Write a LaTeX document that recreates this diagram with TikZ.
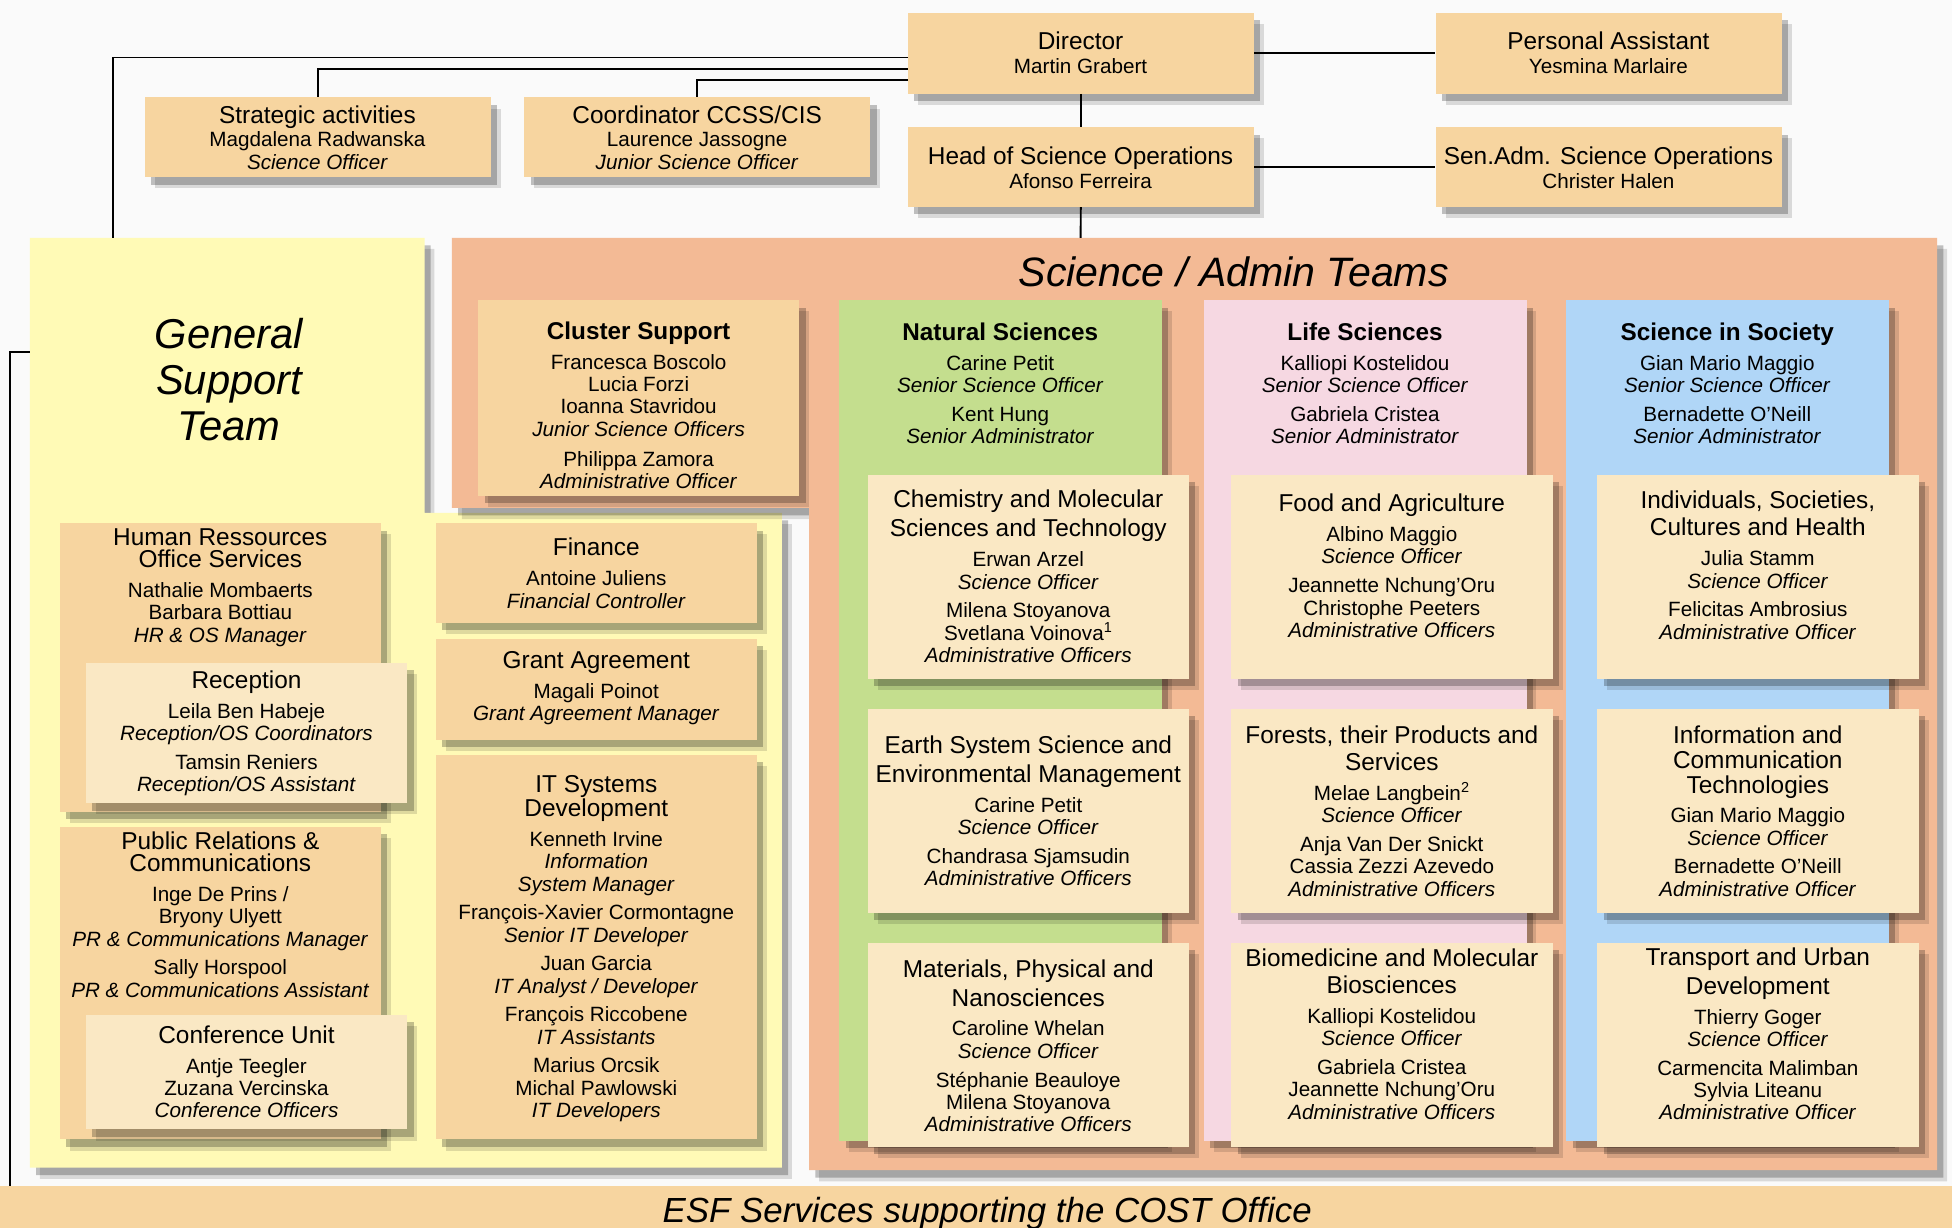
\documentclass[tikz,border=0pt]{standalone}
\usepackage{fontspec}
\setmainfont{Liberation Sans}
\usetikzlibrary{shadows}
\definecolor{bg}{RGB}{250,250,250}
\definecolor{peach}{RGB}{247,213,160}
\definecolor{cream}{RGB}{250,232,196}
\definecolor{ylw}{RGB}{255,250,182}
\definecolor{salmon}{RGB}{243,186,149}
\definecolor{grn}{RGB}{196,222,142}
\definecolor{pnk}{RGB}{246,216,226}
\definecolor{blu}{RGB}{176,214,247}
\newcommand\ttl[1]{{\fontsize{19.6}{18}\selectfont #1}}
\newcommand\rl[1]{\textit{#1}}
\newcommand\bhd[1]{{\fontsize{19.5}{18}\selectfont\bfseries #1}}
\tikzset{
  shad/.style={drop shadow={shadow xshift=5pt,shadow yshift=-6pt,opacity=.24,fill=black},
               drop shadow={shadow xshift=8pt,shadow yshift=-9pt,opacity=.13,fill=black}},
  card/.style={shad, inner sep=0pt, anchor=north west},
  pbox/.style={card, fill=peach},
  cbox/.style={card, fill=cream},
  txt/.style={align=center, inner sep=0pt, yshift=1.5pt, font=\fontsize{16.6}{18}\selectfont},
  conn/.style={draw=black, line width=1.5pt},
}
\begin{document}
\begin{tikzpicture}[x=1pt,y=-1pt]
\clip (0,0) rectangle (1568,986);
\fill[bg] (0,0) rectangle (1568,986);

% big panels
\fill[ylw, shad] (24,191) -- (341,191) -- (341,412) -- (628,412) -- (628,938) -- (24,938) -- cycle;
\fill[salmon, shad] (363,191) -- (1556,191) -- (1556,940) -- (650,940) -- (650,408) -- (363,408) -- cycle;
\coordinate (gstTop) at (91,191);
\coordinate (gstLeft) at (24,283);
\coordinate (satTop) at (868,191);
\coordinate (esfLeft) at (8,953);

% ESF band
\fill[peach] (0,953) rectangle (1568,1000);
\node[font=\fontsize{28}{30}\selectfont\itshape, anchor=base, inner sep=0pt] (esfT) at (793,982) {ESF Services supporting the COST Office};

% headings
\node[font=\fontsize{33.5}{37}\selectfont\itshape, align=center, inner sep=0pt] (gstT) at (184,305) {General\\Support\\Team};
\node[font=\fontsize{33}{37}\selectfont\itshape, inner sep=0pt] (satT) at (991,218) {Science / Admin Teams};

% top boxes
\node[pbox, minimum width=278pt, minimum height=65pt] (dir) at (729,10) {};
\node[pbox, minimum width=278pt, minimum height=65pt] (pa) at (1153,10) {};
\node[pbox, minimum width=278pt, minimum height=64pt] (head) at (729,102) {};
\node[pbox, minimum width=278pt, minimum height=64pt] (sen) at (1153,102) {};
\node[pbox, minimum width=278pt, minimum height=64pt] (strat) at (116,78) {};
\node[pbox, minimum width=278pt, minimum height=64pt] (coord) at (421,78) {};

\node[txt] (dirT) at (868,44) {\ttl{Director}\\[1pt] Martin Grabert};
\node[txt] (paT) at (1292,44) {\ttl{Personal Assistant}\\[1pt] Yesmina Marlaire};
\node[txt] (headT) at (868,136) {\ttl{Head of Science Operations}\\[1pt] Afonso Ferreira};
\node[txt] (senT) at (1292,136) {\ttl{Sen.Adm. Science Operations}\\[1pt] Christer Halen};
\node[txt] (stratT) at (255,112) {\ttl{Strategic activities}\\[1pt] Magdalena Radwanska\\ \rl{Science Officer}};
\node[txt] (coordT) at (560,112) {\ttl{Coordinator CCSS/CIS}\\[1pt] Laurence Jassogne\\ \rl{Junior Science Officer}};

% connectors
\draw[conn] ([yshift=-3.5pt]dir.west) -| (gstTop);
\draw[conn] ([yshift=-12.5pt]dir.west) -| (strat.north);
\draw[conn] ([yshift=-21.5pt]dir.west) -| (coord.north);
\draw[conn] (dir.east) -- (pa.west);
\draw[conn] (dir.south) -- (head.north);
\draw[conn] (head.east) -- (sen.west);
\draw[conn] (head.south) -- (satTop);
\draw[conn] (gstLeft) -| (esfLeft);

% cluster support
\node[pbox, minimum width=258pt, minimum height=157pt] (clu) at (384,241) {};
\node[txt] (cluT) at (513,327) {\bhd{Cluster Support}\\[6pt] Francesca Boscolo\\ Lucia Forzi\\ Ioanna Stavridou\\ \rl{Junior Science Officers}\\[6pt] Philippa Zamora\\ \rl{Administrative Officer}};

% column panels
\node[card, fill=grn, minimum width=259pt, minimum height=675pt] (ns) at (674,241) {};
\node[card, fill=pnk, minimum width=259pt, minimum height=675pt] (ls) at (967,241) {};
\node[card, fill=blu, minimum width=259pt, minimum height=675pt] (sis) at (1258,241) {};
\node[txt] (nsT) at (803.5,309.5) {\bhd{Natural Sciences}\\[6pt] Carine Petit\\ \rl{Senior Science Officer}\\[5pt] Kent Hung\\ \rl{Senior Administrator}};
\node[txt] (lsT) at (1096.5,309.5) {\bhd{Life Sciences}\\[6pt] Kalliopi Kostelidou\\ \rl{Senior Science Officer}\\[5pt] Gabriela Cristea\\ \rl{Senior Administrator}};
\node[txt] (sisT) at (1387.5,309.5) {\bhd{Science in Society}\\[6pt] Gian Mario Maggio\\ \rl{Senior Science Officer}\\[5pt] Bernadette O'Neill\\ \rl{Senior Administrator}};

% natural sciences sub-boxes
\node[cbox, minimum width=258pt, minimum height=164pt] (chem) at (697,381) {};
\node[cbox, minimum width=258pt, minimum height=164pt] (earth) at (697,569) {};
\node[cbox, minimum width=258pt, minimum height=164pt] (mat) at (697,757) {};
\node[txt] (chemT) at (826,464.5) {\ttl{Chemistry and Molecular}\\[4pt] \ttl{Sciences and Technology}\\[6pt] Erwan Arzel\\ \rl{Science Officer}\\[5pt] Milena Stoyanova\\ Svetlana Voinova\textsuperscript{1}\\ \rl{Administrative Officers}};
\node[txt] (earthT) at (826,653) {\ttl{Earth System Science and}\\[4pt] \ttl{Environmental Management}\\[6pt] Carine Petit\\ \rl{Science Officer}\\[5pt] Chandrasa Sjamsudin\\ \rl{Administrative Officers}};
\node[txt] (matT) at (826,841.5) {\ttl{Materials, Physical and}\\[4pt] \ttl{Nanosciences}\\[6pt] Caroline Whelan\\ \rl{Science Officer}\\[5pt] Stéphanie Beauloye\\ Milena Stoyanova\\ \rl{Administrative Officers}};

% life sciences sub-boxes
\node[cbox, minimum width=258pt, minimum height=164pt] (food) at (989,381) {};
\node[cbox, minimum width=258pt, minimum height=164pt] (forest) at (989,569) {};
\node[cbox, minimum width=258pt, minimum height=164pt] (bio) at (989,757) {};
\node[txt] (foodT) at (1118,456) {\ttl{Food and Agriculture}\\[6pt] Albino Maggio\\ \rl{Science Officer}\\[5pt] Jeannette Nchung'Oru\\ Christophe Peeters\\ \rl{Administrative Officers}};
\node[txt] (forestT) at (1118,653) {\ttl{Forests, their Products and}\\[4pt] \ttl{Services}\\[6pt] Melae Langbein\textsuperscript{2}\\ \rl{Science Officer}\\[5pt] Anja Van Der Snickt\\ Cassia Zezzi Azevedo\\ \rl{Administrative Officers}};
\node[txt] (bioT) at (1118,832) {\ttl{Biomedicine and Molecular}\\[4pt] \ttl{Biosciences}\\[6pt] Kalliopi Kostelidou\\ \rl{Science Officer}\\[5pt] Gabriela Cristea\\ Jeannette Nchung'Oru\\ \rl{Administrative Officers}};

% science in society sub-boxes
\node[cbox, minimum width=258pt, minimum height=164pt] (indiv) at (1283,381) {};
\node[cbox, minimum width=258pt, minimum height=164pt] (ict) at (1283,569) {};
\node[cbox, minimum width=258pt, minimum height=164pt] (trans) at (1283,757) {};
\node[txt] (indivT) at (1412,455.5) {\ttl{Individuals, Societies,}\\[4pt] \ttl{Cultures and Health}\\[6pt] Julia Stamm\\ \rl{Science Officer}\\[5pt] Felicitas Ambrosius\\ \rl{Administrative Officer}};
\node[txt] (ictT) at (1412,653) {\ttl{Information and}\\[2pt] \ttl{Communication}\\[2pt] \ttl{Technologies}\\[6pt] Gian Mario Maggio\\ \rl{Science Officer}\\[5pt] Bernadette O'Neill\\ \rl{Administrative Officer}};
\node[txt] (transT) at (1412,832) {\ttl{Transport and Urban}\\[4pt] \ttl{Development}\\[6pt] Thierry Goger\\ \rl{Science Officer}\\[5pt] Carmencita Malimban\\ Sylvia Liteanu\\ \rl{Administrative Officer}};

% general support boxes
\node[pbox, minimum width=258pt, minimum height=232pt] (hr) at (48,420) {};
\node[txt] (hrT) at (177,473.5) {\ttl{Human Ressources}\\ \ttl{Office Services}\\[6pt] Nathalie Mombaerts\\ Barbara Bottiau\\ \rl{HR \& OS Manager}};
\node[cbox, minimum width=258pt, minimum height=113pt] (rec) at (69,532) {};
\node[txt] (recT) at (198,590.5) {\ttl{Reception}\\[6pt] Leila Ben Habeje\\ \rl{Reception/OS Coordinators}\\[5pt] Tamsin Reniers\\ \rl{Reception/OS Assistant}};
\node[pbox, minimum width=258pt, minimum height=251pt] (pr) at (48,664) {};
\node[txt] (prT) at (177,736) {\ttl{Public Relations \&}\\ \ttl{Communications}\\[6pt] Inge De Prins /\\ Bryony Ulyett\\ \rl{PR \& Communications Manager}\\[5pt] Sally Horspool\\ \rl{PR \& Communications Assistant}};
\node[cbox, minimum width=258pt, minimum height=92pt] (conf) at (69,815) {};
\node[txt] (confT) at (198,862.5) {\ttl{Conference Unit}\\[6pt] Antje Teegler\\ Zuzana Vercinska\\ \rl{Conference Officers}};
\node[pbox, minimum width=258pt, minimum height=80pt] (fin) at (350,420) {};
\node[txt] (finT) at (479,462) {\ttl{Finance}\\[6pt] Antoine Juliens\\ \rl{Financial Controller}};
\node[pbox, minimum width=258pt, minimum height=81pt] (grant) at (350,513) {};
\node[txt] (grantT) at (479,554.5) {\ttl{Grant Agreement}\\[6pt] Magali Poinot\\ \rl{Grant Agreement Manager}};
\node[pbox, minimum width=258pt, minimum height=309pt] (it) at (350,606) {};
\node[txt] (itT) at (479,763.5) {\ttl{IT Systems}\\ \ttl{Development}\\[6pt] Kenneth Irvine\\ \rl{Information}\\ \rl{System Manager}\\[5pt] François-Xavier Cormontagne\\ \rl{Senior IT Developer}\\[5pt] Juan Garcia\\ \rl{IT Analyst / Developer}\\[5pt] François Riccobene\\ \rl{IT Assistants}\\[5pt] Marius Orcsik\\ Michal Pawlowski\\ \rl{IT Developers}};
\end{tikzpicture}
\end{document}
